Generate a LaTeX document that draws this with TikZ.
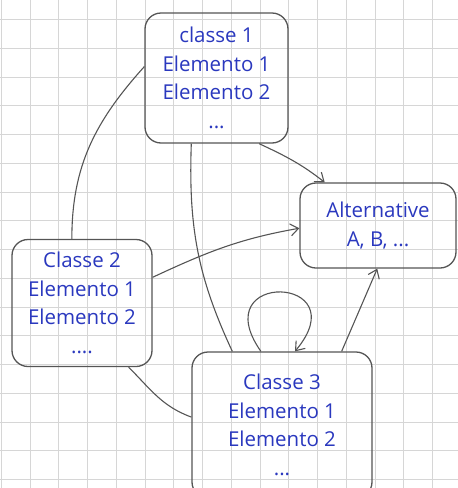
\documentclass[tikz,border=0pt]{standalone}
\usepackage{fontspec}
\setmainfont{Open Sans}
\usetikzlibrary{arrows.meta,positioning}
\definecolor{ink}{HTML}{2A38BE}
\definecolor{pencil}{HTML}{555555}
\definecolor{paper}{HTML}{D6D6D6}

\begin{document}
\begin{tikzpicture}[x=1pt,y=1pt,
  classbox/.style={draw=pencil,line width=1.3pt,rounded corners=16pt,
    align=center,text=ink,inner sep=0pt,
    font=\fontsize{20.5}{28.5}\selectfont},
  link/.style={draw=pencil,line width=1.1pt},
  arr/.style={link,-{Straight Barb[length=8pt,width=12pt]}}]
  \useasboundingbox (0,0) rectangle (458,-488);
  % squared paper
  \foreach \gx in {1.25,30,...,458} \draw[paper,line width=0.8pt] (\gx,0) -- (\gx,-488);
  \foreach \gy in {-19.5,-48.25,...,-488} \draw[paper,line width=0.8pt] (0,\gy) -- (458,\gy);

  \node[classbox,minimum width=143pt,minimum height=130pt] (c1) at (216.5,-78)
    {classe 1\\Elemento 1\\Elemento 2\\...};
  \node[classbox,minimum width=140pt,minimum height=127pt] (c2) at (82,-303)
    {Classe 2\\Elemento 1\\Elemento 2\\....};
  \node[classbox,minimum width=180pt,minimum height=146pt] (c3) at (282,-425)
    {Classe 3\\Elemento 1\\Elemento 2\\...};
  \node[classbox,minimum width=156pt,minimum height=85pt] (alt) at (378,-225.5)
    {Alternative\\A, B, ...};

  \draw[link] (c1.171) to[out=228,in=90] (c2.99);
  \draw[link] (c1.249) to[out=268,in=115] (c3.124);
  \draw[arr] (c1.-57) to[out=-25,in=142] (alt.141);
  \draw[arr] (c2.20) to[out=25,in=190] (alt.182);
  \draw[link] (c2.-54) to[out=-45,in=160] (c3.175);
  \draw[arr] (c3.106) to[out=125,in=50,looseness=7.5] (c3.80);
  \draw[arr] (c3.51) -- (alt.269);
\end{tikzpicture}
\end{document}
